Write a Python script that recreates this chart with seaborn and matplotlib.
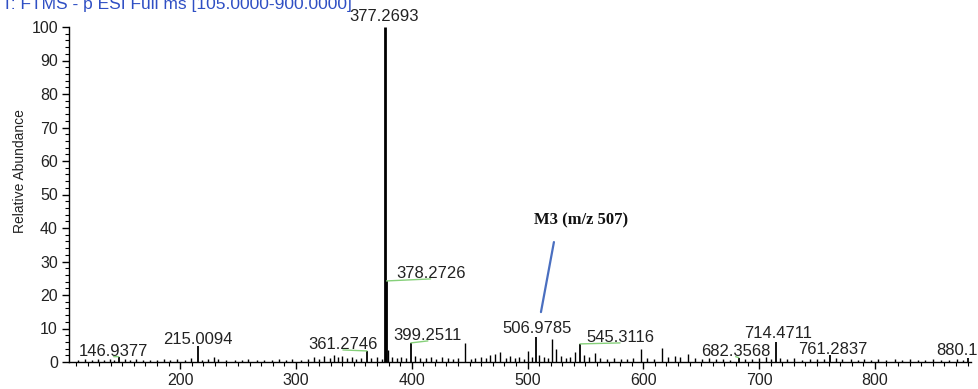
import matplotlib
matplotlib.use("Agg")
import matplotlib.pyplot as plt
import seaborn as sns
from matplotlib.ticker import MultipleLocator

# Labelled peaks: m/z and relative abundance (%)
label_mz = [146.9377, 215.0094, 361.2746, 377.2693, 378.2726, 399.2511,
            506.9785, 545.3116, 682.3568, 714.4711, 761.2837, 880.1]
label_int = [1.6, 4.8, 3.3, 100.0, 24.2, 5.7, 7.5, 5.4, 1.3, 6.1, 2.0, 1.2]
label_text = ["146.9377", "215.0094", "361.2746", "377.2693", "378.2726",
              "399.2511", "506.9785", "545.3116", "682.3568", "714.4711",
              "761.2837", "880.1"]

# Unlabelled peaks: m/z and relative abundance (%), ten per row
minor_mz = [112, 118, 124, 129, 134, 139, 143, 152, 157, 162,
            168, 174, 180, 186, 191, 197, 204, 209, 219, 224,
            229, 233, 240, 247, 253, 259, 266, 272, 279, 285,
            291, 297, 304, 310, 315.5, 320, 324, 329, 333, 336,
            340, 344, 348, 352, 356, 365, 370, 374, 379.28, 383,
            387, 391, 395, 403, 407, 412, 417, 421, 426, 431,
            436, 440, 445.9, 451, 455, 460, 464, 468, 472, 476,
            481, 485, 489, 493, 497, 500.5, 504, 510, 514, 518,
            520.9, 524.5, 529, 533, 537, 541, 549, 553, 558, 563,
            569, 575, 581, 586, 591, 597.7, 603, 609, 615.8, 621,
            627, 632, 638.2, 645, 651, 657, 663, 669, 675, 688,
            694, 700, 706, 710, 718, 724, 730, 737, 744, 750,
            756, 766, 772, 779, 785, 791, 797, 803, 810, 817,
            823, 830, 837, 843, 850, 857, 864, 871, 876]
minor_int = [0.6, 0.9, 0.5, 1.0, 0.7, 0.8, 0.6, 0.9, 0.6, 0.8,
             0.5, 0.7, 0.6, 0.9, 0.5, 0.8, 0.7, 1.1, 0.6, 0.9,
             1.6, 0.8, 0.5, 0.7, 0.6, 0.8, 0.5, 0.7, 0.6, 0.9,
             0.5, 0.8, 0.6, 0.9, 1.6, 1.0, 1.8, 1.2, 2.0, 1.4,
             1.7, 1.2, 1.5, 1.0, 1.3, 1.2, 1.5, 1.0, 3.5, 1.4,
             1.1, 1.6, 1.2, 1.8, 1.3, 1.1, 1.4, 0.9, 1.5, 1.1,
             0.8, 1.2, 5.8, 1.0, 1.3, 1.6, 1.1, 2.0, 2.4, 3.0,
             1.3, 1.7, 1.2, 1.5, 1.0, 3.3, 1.4, 2.2, 1.6, 1.3,
             6.8, 4.0, 1.8, 1.2, 1.5, 3.0, 2.0, 1.4, 2.6, 1.1,
             0.9, 1.2, 1.0, 0.8, 1.1, 3.9, 1.3, 1.0, 4.2, 1.4,
             1.8, 1.6, 2.4, 1.2, 0.9, 1.1, 0.8, 1.0, 0.7, 1.0,
             0.9, 1.2, 1.4, 1.0, 1.2, 0.8, 1.1, 0.7, 0.9, 0.8,
             1.0, 1.3, 0.8, 1.0, 0.7, 0.9, 0.6, 0.8, 0.7, 0.9,
             0.6, 0.8, 0.7, 0.6, 0.8, 0.6, 0.7, 0.9, 0.7]

axis_ticks = [200, 300, 400, 500, 600, 700, 800]
y_ticks = [0, 10, 20, 30, 40, 50, 60, 70, 80, 90, 100]

# Label placement (pixel offsets from the peak top, alignment, leader line)
label_layout = {
    "146.9377": (-5, 1, "center", True),
    "215.0094": (0, 2, "center", False),
    "361.2746": (-24, 2, "center", True),
    "377.2693": (-1, 6, "center", False),
    "378.2726": (44, 3, "center", True),
    "399.2511": (17, 3, "center", True),
    "506.9785": (1, 4, "center", False),
    "545.3116": (40, 2, "center", True),
    "682.3568": (-3, 2, "center", True),
    "714.4711": (2, 4, "center", False),
    "761.2837": (3, 1, "center", False),
    "880.1": (-31, 3, "left", False),
}

sns.set_style("ticks")
plt.rcParams["font.family"] = ["Liberation Sans", "DejaVu Sans"]

W, H = 979, 389
fig = plt.figure(figsize=(W / 100, H / 100), dpi=100)
ax = fig.add_axes([69 / W, 27 / H, 902 / W, 335 / H])

ax.set_xlim(104, 883)
ax.set_ylim(0, 100)

# stick spectrum
ax.vlines(minor_mz, 0, minor_int, color="black", lw=1.0)
for mz, h in zip(label_mz, label_int):
    ax.vlines(mz, 0, h, color="black", lw=2.0 if h > 50 else 1.3)

green = "#86d07a"
for mz, h, txt in zip(label_mz, label_int, label_text):
    dx, dy, ha, leader = label_layout[txt]
    ax.annotate(txt, xy=(mz, h), xytext=(dx, dy), textcoords="offset pixels",
                ha=ha, va="baseline", fontsize=12, color="#222222",
                annotation_clip=False)
    if leader:
        ax.annotate("", xy=(mz, h), xytext=(dx, dy - 1),
                    textcoords="offset pixels",
                    arrowprops=dict(arrowstyle="-", color=green, lw=1.0,
                                    shrinkA=0, shrinkB=0))

# metabolite callout
ax.text(546, 42.4, "M3 (m/z 507)", ha="center", va="center",
        fontsize=12, fontweight="bold", family="Liberation Serif",
        color="#111111")
ax.annotate("", xy=(511.6, 14.9), xytext=(522.8, 35.8),
            arrowprops=dict(arrowstyle="-", color="#4a6fc0", lw=1.6,
                            shrinkA=0, shrinkB=0))

# axes styling
sns.despine(ax=ax, top=True, right=True)
for s in ("left", "bottom"):
    ax.spines[s].set_color("black")
    ax.spines[s].set_linewidth(1.0)

ax.set_xticks(axis_ticks)
ax.set_xticklabels([str(t) for t in axis_ticks])
ax.xaxis.set_minor_locator(MultipleLocator(10))
ax.set_yticks(y_ticks)
ax.set_yticklabels([str(t) for t in y_ticks])
ax.yaxis.set_minor_locator(MultipleLocator(2))
ax.tick_params(axis="both", which="major", direction="out", length=5,
               width=1.0, color="black", labelsize=11.5, labelcolor="#222222",
               pad=3)
ax.tick_params(axis="both", which="minor", direction="out", length=3,
               width=0.8, color="black")

ax.set_xlabel("")
ax.set_ylabel("Relative Abundance", fontsize=10, color="#222222",
              rotation=90, ha="center", va="center")
ax.yaxis.set_label_coords((20 - 69) / 902, (362 - 171) / 335)

fig.text(2 / W, 1 - 9 / H, "T: FTMS - p ESI Full ms [105.0000-900.0000]",
         ha="left", va="baseline", fontsize=12.5, color="#2f4fc4")

fig.savefig("out.png", dpi=100)
